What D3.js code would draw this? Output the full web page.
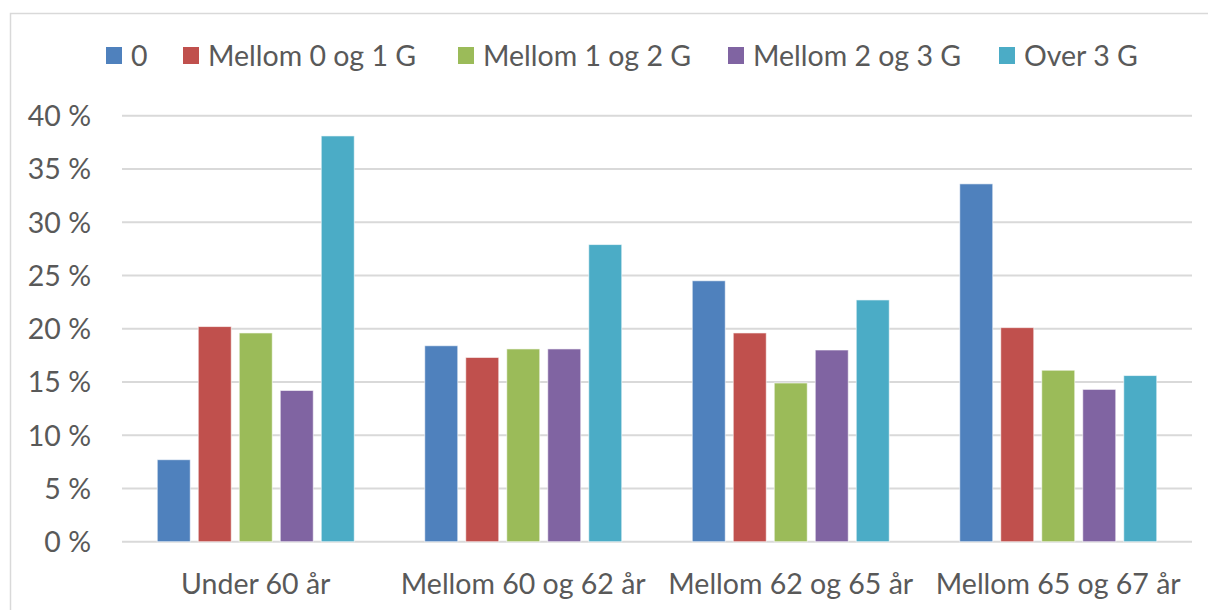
<!DOCTYPE html>
<html>
<head>
<meta charset="utf-8">
<script src="https://cdn.jsdelivr.net/npm/d3@7"></script>
<style>
  html, body { margin: 0; padding: 0; background: #fff; }
  svg text { font-family: Lato, "Open Sans", sans-serif; fill: #595959; }
</style>
</head>
<body>
<svg id="chart" width="1208" height="610"></svg>
<script>
// Age groups on the x axis
const categories = ["Under 60 år", "Mellom 60 og 62 år", "Mellom 62 og 65 år", "Mellom 65 og 67 år"];
// Income bands (legend order)
const seriesNames = ["0", "Mellom 0 og 1 G", "Mellom 1 og 2 G", "Mellom 2 og 3 G", "Over 3 G"];
const seriesColors = ["#4f81bd", "#c0504d", "#9bbb59", "#8064a2", "#4bacc6"];
// Share (%) per income band, one value per age group
const s0      = [7.7, 18.4, 24.5, 33.6];
const s0to1   = [20.2, 17.3, 19.6, 20.1];
const s1to2   = [19.6, 18.1, 14.9, 16.1];
const s2to3   = [14.2, 18.1, 18.0, 14.3];
const sOver3  = [38.1, 27.9, 22.7, 15.6];
const seriesValues = [s0, s0to1, s1to2, s2to3, sOver3];
const yTicks = [0, 5, 10, 15, 20, 25, 30, 35, 40];

const fontSize = 28.5;
const svg = d3.select("#chart");

// Outer chart frame
svg.append("rect")
  .attr("x", 10.5).attr("y", 13.5)
  .attr("width", 1230).attr("height", 640)
  .attr("fill", "#fff").attr("stroke", "#d9d9d9").attr("stroke-width", 1.5);

const plotLeft = 122, plotRight = 1192;
const y = d3.scaleLinear().domain([0, 40]).range([541.7, 115.7]);
const x0 = d3.scaleBand().domain(categories).range([plotLeft, plotRight]).padding(0);
const groupW = x0.bandwidth();
const barsSpan = 197;
const x1 = d3.scaleBand().domain(seriesNames)
  .range([(groupW - barsSpan) / 2, (groupW + barsSpan) / 2])
  .paddingInner(8 / 41).paddingOuter(0);

// Horizontal gridlines
svg.append("g").selectAll("line").data(yTicks).join("line")
  .attr("x1", plotLeft).attr("x2", plotRight)
  .attr("y1", d => y(d)).attr("y2", d => y(d))
  .attr("stroke", "#d9d9d9").attr("stroke-width", 2);

// Y axis labels
const yAxis = d3.axisLeft(y).tickValues(yTicks).tickSize(0).tickPadding(0)
  .tickFormat(d => d + " %");
svg.append("g").attr("transform", "translate(91,0)").call(yAxis)
  .call(g => g.select(".domain").remove())
  .selectAll("text")
  .attr("font-size", fontSize).attr("dy", "0.35em")
  .style("font-family", "Lato, 'Open Sans', sans-serif").attr("fill", "#595959");

// Bars
const groups = svg.append("g").selectAll("g").data(categories).join("g")
  .attr("transform", c => `translate(${x0(c)},0)`);
groups.selectAll("rect")
  .data((c, ci) => seriesNames.map((s, si) => ({ s, si, v: seriesValues[si][ci] })))
  .join("rect")
  .attr("x", d => x1(d.s))
  .attr("width", x1.bandwidth())
  .attr("y", d => y(d.v))
  .attr("height", d => y(0) - y(d.v))
  .attr("fill", d => seriesColors[d.si])
  .attr("stroke", "#ffffff").attr("stroke-opacity", 0.6).attr("stroke-width", 1);

// Category labels
const xAxis = d3.axisBottom(x0).tickSize(0).tickPadding(0);
svg.append("g").attr("transform", `translate(0,${y(0)})`).call(xAxis)
  .call(g => g.select(".domain").remove())
  .selectAll("text")
  .attr("y", 52).attr("dy", 0)
  .attr("font-size", fontSize)
  .style("font-family", "Lato, 'Open Sans', sans-serif").attr("fill", "#595959");

// Legend
const legendX = [106, 183, 458, 728, 999];
const legend = svg.append("g").selectAll("g").data(seriesNames).join("g")
  .attr("transform", (d, i) => `translate(${legendX[i]},47)`);
legend.append("rect").attr("width", 16).attr("height", 17)
  .attr("fill", (d, i) => seriesColors[i]);
legend.append("text").attr("x", 25).attr("y", 19)
  .attr("font-size", fontSize).text(d => d);
</script>
</body>
</html>
